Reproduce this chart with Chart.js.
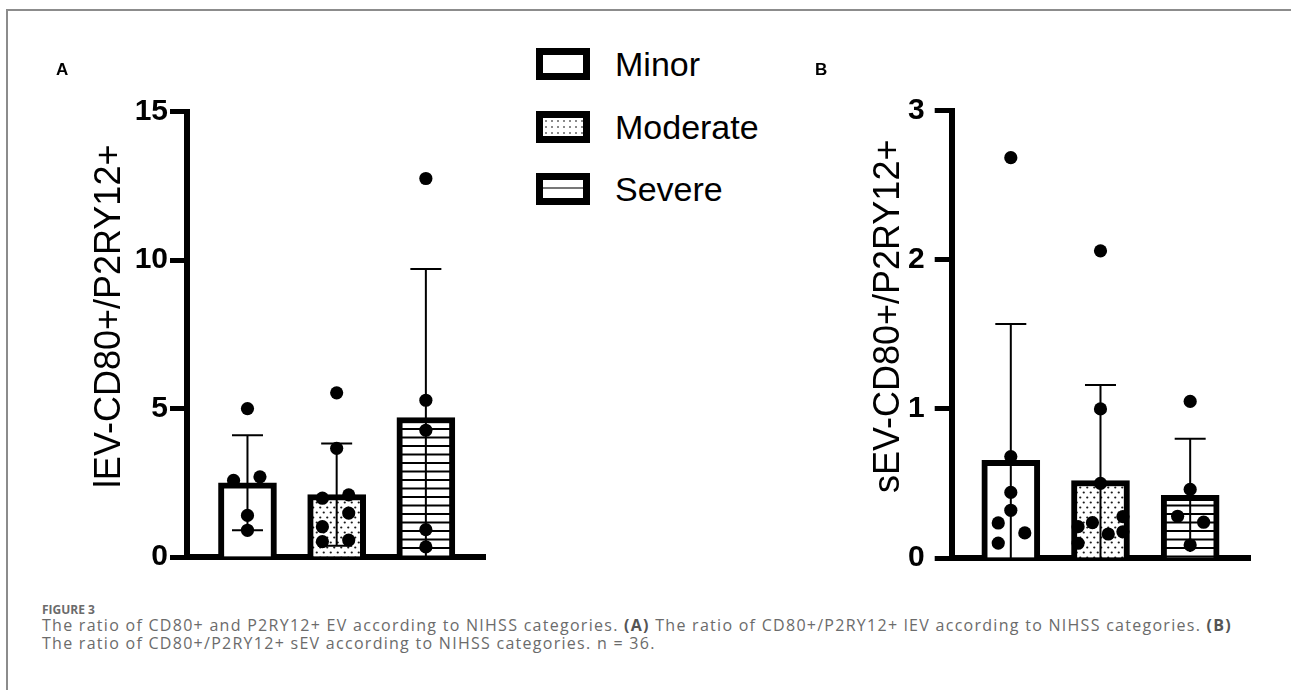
<!DOCTYPE html>
<html><head><meta charset="utf-8">
<script src="https://cdn.jsdelivr.net/npm/chart.js@4.4.1/dist/chart.umd.min.js"></script>
<style>
html,body{margin:0;padding:0;background:#fff;}
#root{position:relative;width:1291px;height:690px;overflow:hidden;background:#fff;font-family:"Liberation Sans",Arial,sans-serif;}
#frame{position:absolute;left:6px;top:9px;width:1300px;height:700px;border-left:2px solid #8c8c8c;border-top:2px solid #8c8c8c;}
canvas{position:absolute;top:0;}
#cA{left:0;}
#cB{left:760px;}
.plabel{position:absolute;font:bold 17px "Liberation Sans",Arial,sans-serif;line-height:17px;color:#000;}
#legend{position:absolute;left:536px;top:48px;}
.lrow{display:flex;align-items:center;height:32px;margin-bottom:30.6px;}
.lbox{width:54px;height:32px;box-sizing:border-box;border:7px solid #000;background-color:#fff;}
.ltext{margin-left:25px;font:34px "Liberation Sans",Arial,sans-serif;color:#000;line-height:32px;}
.cap{position:absolute;left:42px;font-family:"Open Sans",sans-serif;color:#6b6b6b;white-space:nowrap;}
.cap b{color:#555;}
</style></head><body>
<div id="root">
  <div id="frame"></div>
  <canvas id="cA" width="520" height="590"></canvas>
  <canvas id="cB" width="520" height="590"></canvas>
  <div class="plabel" style="left:56px;top:61px">A</div>
  <div class="plabel" style="left:815px;top:61px">B</div>
  <div id="legend"></div>
  <div class="cap" id="figt" style="top:603px;font-size:12px;font-weight:bold;line-height:14px;">FIGURE 3</div>
  <div class="cap" id="cap1" style="top:616px;font-size:16px;line-height:18px;">The ratio of CD80+ and P2RY12+ EV according to NIHSS categories. <b>(A)</b> The ratio of CD80+/P2RY12+ lEV according to NIHSS categories. <b>(B)</b></div>
  <div class="cap" id="cap2" style="top:634px;font-size:16px;line-height:18px;">The ratio of CD80+/P2RY12+ sEV according to NIHSS categories. n = 36.</div>
</div>
<script>
// ---------- data ----------
const categories = ['Minor', 'Moderate', 'Severe'];

// Panel A (lEV)
const titleA = 'lEV-CD80+/P2RY12+';
const yMaxA = 15, yStepA = 5;
const meanA = [2.5, 2.1, 4.7];
const sdA = [1.6, 1.72, 5.0];
const minorA = [5.0, 2.58, 2.70, 1.40, 0.90];
const moderateA = [5.53, 3.66, 1.98, 2.09, 1.48, 1.02, 0.52, 0.57];
const severeA = [12.75, 5.28, 4.27, 0.92, 0.34];
const minorAJitter = [0, -0.156, 0.14, 0, 0];
const moderateAJitter = [0, 0, -0.16, 0.135, 0.135, -0.16, -0.16, 0.135];
const severeAJitter = [0, 0, 0, 0, 0];

// Panel B (sEV)
const titleB = 'sEV-CD80+/P2RY12+';
const yMaxB = 3, yStepB = 1;
const meanB = [0.655, 0.52, 0.42];
const sdB = [0.915, 0.64, 0.38];
const minorB = [2.685, 0.68, 0.44, 0.32, 0.235, 0.168, 0.10];
const moderateB = [2.06, 1.0, 0.50, 0.237, 0.161, 0.21, 0.099, 0.277, 0.176];
const severeB = [1.05, 0.46, 0.28, 0.24, 0.087];
const minorBJitter = [0, 0, 0, 0, -0.14, 0.156, -0.14];
const moderateBJitter = [0, 0, 0, -0.09, 0.087, -0.25, -0.25, 0.25, 0.25];
const severeBJitter = [0, 0, -0.14, 0.15, 0];

// ---------- patterns ----------
function dotPattern(ctx) {
  const c = document.createElement('canvas'); c.width = 7; c.height = 10;
  const g = c.getContext('2d');
  g.fillStyle = '#fff'; g.fillRect(0, 0, 7, 10);
  g.fillStyle = '#1a1a1a';
  g.beginPath(); g.arc(1.75, 2.5, 1.1, 0, Math.PI * 2); g.fill();
  g.beginPath(); g.arc(5.25, 7.5, 1.1, 0, Math.PI * 2); g.fill();
  return ctx.createPattern(c, 'repeat');
}
function linePattern(ctx) {
  const c = document.createElement('canvas'); c.width = 8; c.height = 17;
  const g = c.getContext('2d');
  g.fillStyle = '#fff'; g.fillRect(0, 0, c.width, c.height);
  g.fillStyle = '#000';
  g.fillRect(0, 3, 8, 2); g.fillRect(0, 11.5, 8, 2);
  return ctx.createPattern(c, 'repeat');
}

// ---------- plugins ----------
const errBars = {
  id: 'errbars',
  afterDatasetsDraw(chart, args, o) {
    const {ctx, scales: {x, y}} = chart;
    ctx.save();
    ctx.strokeStyle = '#000'; ctx.lineWidth = 2;
    o.means.forEach((m, i) => {
      const px = x.getPixelForValue(i);
      const top = y.getPixelForValue(m + o.sds[i]);
      const lowV = m - o.sds[i];
      const bot = y.getPixelForValue(Math.max(lowV, 0));
      ctx.beginPath();
      ctx.moveTo(px, bot); ctx.lineTo(px, top);
      ctx.moveTo(px - 15.5, top); ctx.lineTo(px + 15.5, top);
      if (lowV > 0.1) { ctx.moveTo(px - 15.5, bot); ctx.lineTo(px + 15.5, bot); }
      ctx.stroke();
    });
    ctx.restore();
  }
};
const yTitle = {
  id: 'ytitle',
  afterDraw(chart, args, o) {
    const {ctx, chartArea} = chart;
    ctx.save();
    ctx.font = '36px "Liberation Sans", Arial, sans-serif';
    ctx.fillStyle = '#000'; ctx.textAlign = 'center'; ctx.textBaseline = 'alphabetic';
    ctx.translate(o.x, (chartArea.top + chartArea.bottom) / 2 + o.dy);
    ctx.rotate(-Math.PI / 2);
    ctx.fillText(o.text, 0, 0);
    ctx.restore();
  }
};

function points(groups, jitters) {
  const out = [];
  groups.forEach((g, i) => g.forEach((v, k) => out.push({x: i + jitters[i][k], y: v})));
  return out;
}

function makePanel(id, cfg) {
  const canvas = document.getElementById(id);
  const ctx = canvas.getContext('2d');
  const fills = ['#ffffff', dotPattern(ctx), linePattern(ctx)];
  return new Chart(canvas, {
    type: 'bar',
    data: {
      datasets: [
        {type: 'scatter', data: points(cfg.groups, cfg.jitters), pointRadius: 6.6, pointHoverRadius: 6.6,
         backgroundColor: '#000', borderWidth: 0, order: 0},
        {type: 'bar', data: cfg.means.map((m, i) => ({x: i, y: m})), backgroundColor: fills,
         borderColor: '#000', borderWidth: 6, barThickness: 58, order: 1}
      ]
    },
    options: {
      responsive: false, animation: false, devicePixelRatio: 1,
      layout: {padding: cfg.padding},
      plugins: {
        legend: {display: false}, tooltip: {enabled: false},
        errbars: {means: cfg.means, sds: cfg.sds},
        ytitle: {text: cfg.title, x: cfg.titleX, dy: -18}
      },
      scales: {
        x: {type: 'linear', min: cfg.xMin, max: cfg.xMax, offset: false,
            ticks: {display: false}, grid: {display: false, drawTicks: false},
            border: {display: true, width: 6, color: '#000'},
            afterFit(s) { s.height = 0; }},
        y: {type: 'linear', min: 0, max: cfg.yMax,
            ticks: {stepSize: cfg.yStep, padding: cfg.tickPad, color: '#000',
                    font: {family: '"Liberation Sans", Arial, sans-serif', size: 30, weight: 'bold'}},
            grid: {display: true, drawOnChartArea: false, drawTicks: true, tickLength: 17, tickWidth: 5, tickColor: '#000'},
            border: {display: true, width: 6, color: '#000'},
            afterFit(s) { s.width = cfg.yWidth; }}
      }
    },
    plugins: [errBars, yTitle]
  });
}

makePanel('cA', {
  groups: [minorA, moderateA, severeA], jitters: [minorAJitter, moderateAJitter, severeAJitter],
  means: meanA, sds: sdA, title: titleA, titleX: 120, yMax: yMaxA, yStep: yStepA,
  xMin: -0.678, xMax: 2.663, yWidth: 187, tickPad: 2,
  padding: {left: 0, right: 35, top: 111.7, bottom: 33}
});
makePanel('cB', {
  groups: [minorB, moderateB, severeB], jitters: [minorBJitter, moderateBJitter, severeBJitter],
  means: meanB, sds: sdB, title: titleB, titleX: 139, yMax: yMaxB, yStep: yStepB,
  xMin: -0.659, xMax: 2.667, yWidth: 191.7, tickPad: 10,
  padding: {left: 0, right: 30, top: 110.7, bottom: 32}
});

// ---------- legend ----------
const legendFills = [
  'none',
  'radial-gradient(circle, #8a8a8a 0.8px, transparent 1.3px) 0 0 / 6px 6px',
  'linear-gradient(to bottom, transparent 7px, #777 7px, #777 9px, transparent 9px)'
];
const lg = document.getElementById('legend');
categories.forEach((c, i) => {
  const row = document.createElement('div'); row.className = 'lrow';
  const box = document.createElement('div'); box.className = 'lbox';
  if (legendFills[i] !== 'none') box.style.background = legendFills[i] + ', #fff';
  const t = document.createElement('div'); t.className = 'ltext'; t.textContent = c;
  row.appendChild(box); row.appendChild(t); lg.appendChild(row);
});

// ---------- fit caption width ----------
(function () {
  const c1 = document.getElementById('cap1'), c2 = document.getElementById('cap2');
  const target = 1190;
  const w = c1.getBoundingClientRect().width;
  const n = c1.textContent.length;
  const ls = (target - w) / n;
  c1.style.letterSpacing = ls + 'px';
  c2.style.letterSpacing = ls + 'px';
})();
</script>
</body></html>
